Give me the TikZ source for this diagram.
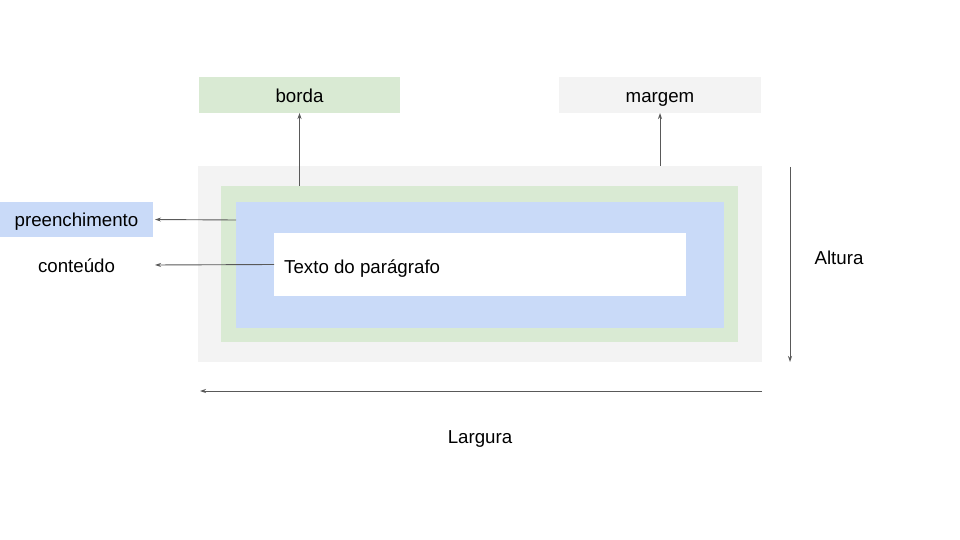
\documentclass[tikz,border=0pt]{standalone}
\usepackage{fontspec}
\setmainfont{Liberation Sans}
\usetikzlibrary{arrows.meta}
\definecolor{margc}{HTML}{F3F3F3}
\definecolor{bordc}{HTML}{D9EAD3}
\definecolor{padc}{HTML}{C9DAF8}
\definecolor{arrc}{HTML}{595959}
\begin{document}
\begin{tikzpicture}[x=1pt,y=-1pt,
  box/.style={rectangle,draw=none,inner sep=0pt,outer sep=0pt},
  lbl/.style={inner sep=0pt,font=\fontsize{18.7}{22}\selectfont,text=black},
  boxlbl/.style={box,lbl,text height=14.5pt,text depth=0pt},
  arr/.style={draw=arrc,line width=0.9pt,-{Stealth[length=6pt,width=4pt]}}]
\useasboundingbox[fill=white] (0,0) rectangle (960,540);
% nested boxes
\node[box,fill=margc,minimum width=564pt,minimum height=196pt] (margin) at (480,264) {};
\node[box,fill=bordc,minimum width=517pt,minimum height=156pt] (border) at (479.5,264) {};
\node[box,fill=padc,minimum width=488pt,minimum height=126pt] (padding) at (480,265) {};
\node[box,fill=white,minimum width=412pt,minimum height=63pt] (content) at (480,264.5) {};
\node[lbl,anchor=base west] (texto) at (284,273) {Texto do parágrafo};
% label boxes
\node[boxlbl,fill=bordc,minimum width=201pt,minimum height=36pt] (borda) at (299.5,95) {borda};
\node[boxlbl,fill=margc,minimum width=202pt,minimum height=36pt] (margem) at (660,95) {margem};
\node[boxlbl,fill=padc,minimum width=153pt,minimum height=35pt] (preench) at (76.5,219.5) {preenchimento};
\node[boxlbl,minimum width=153pt,minimum height=30pt] (conteudo) at (76.5,265) {conteúdo};
\node[lbl,anchor=base] (altura) at (839,264) {Altura};
\node[lbl,anchor=base] (largura) at (480,443) {Largura};
% arrow end points
\coordinate (pstart) at (236,220);
\coordinate (a1) at (790,167);
\coordinate (a2) at (790,362);
\coordinate (l1) at (762,391);
\coordinate (l2) at (200,391);
% connectors
\draw[arr] (borda.south |- border.north) -- (borda.south);
\draw[arr] (margem.south |- margin.north) -- (margem.south);
\draw[arr,shorten >=2pt] (pstart) -- (preench.east);
\draw[arr,shorten >=2pt] (content.west) -- (conteudo.east);
\draw[arr] (a1) -- (a2);
\draw[arr] (l1) -- (l2);
\end{tikzpicture}
\end{document}
